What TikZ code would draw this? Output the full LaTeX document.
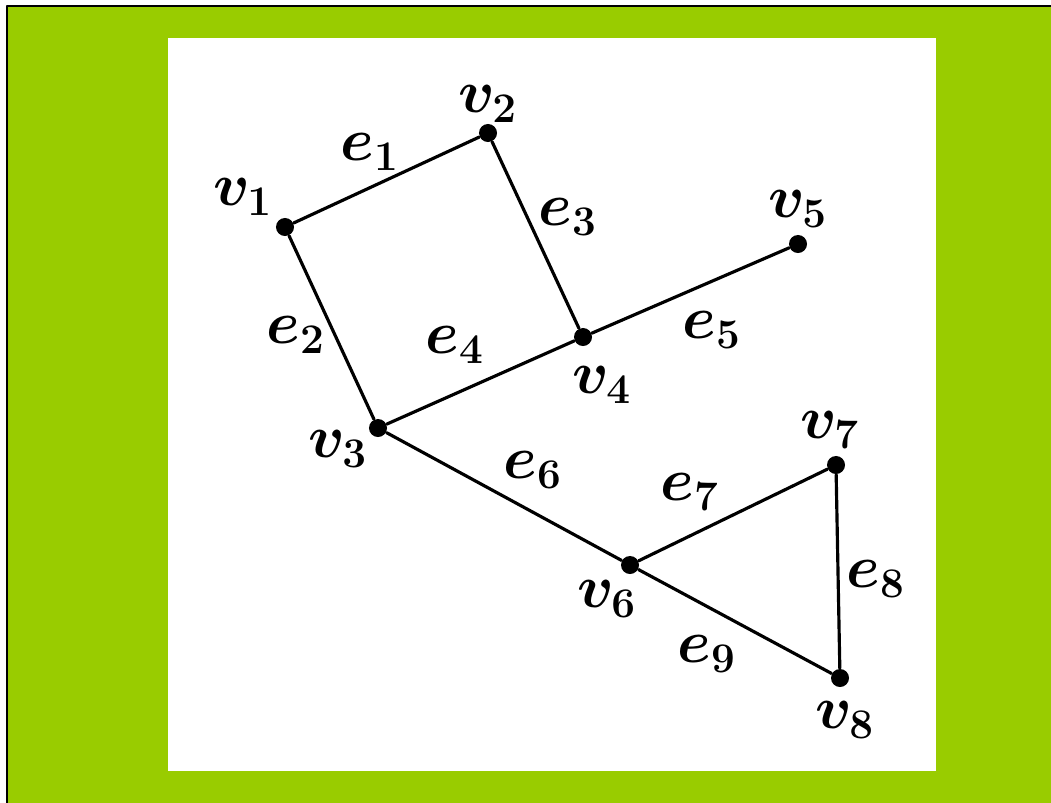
\documentclass[tikz,border=0pt]{standalone}
\definecolor{framegreen}{RGB}{153,204,0}

\begin{document}
\begin{tikzpicture}[x=0.01cm,y=-0.01cm,line cap=round,line join=round,
  vertex/.style={circle,fill=black,inner sep=0pt,minimum size=0.18cm},
  lbl/.style={font=\LARGE\boldmath,inner sep=0pt},
  edge/.style={black,line width=0.9pt}]
  \useasboundingbox (0,0) rectangle (1051,803);
  \fill[framegreen] (7,6) rectangle (1051,803);
  \draw[black,line width=0.025cm,line cap=butt] (7,803) -- (7,6) -- (1051,6);
  \fill[white] (168,38) rectangle (936,771);

  % vertices
  \node[vertex] (v1) at (285,227) {};
  \node[vertex] (v2) at (488,133) {};
  \node[vertex] (v3) at (378,428) {};
  \node[vertex] (v4) at (583,337) {};
  \node[vertex] (v5) at (798,244) {};
  \node[vertex] (v6) at (630,565) {};
  \node[vertex] (v7) at (836,465) {};
  \node[vertex] (v8) at (840,678) {};

  % edges
  \draw[edge] (v1) -- (v2);
  \draw[edge] (v1) -- (v3);
  \draw[edge] (v2) -- (v4);
  \draw[edge] (v3) -- (v4);
  \draw[edge] (v4) -- (v5);
  \draw[edge] (v3) -- (v6);
  \draw[edge] (v6) -- (v7);
  \draw[edge] (v7) -- (v8);
  \draw[edge] (v6) -- (v8);

  % vertex labels
  \node[lbl] (lv1) at (243,197) {$v_1$};
  \node[lbl] (lv2) at (488,104) {$v_2$};
  \node[lbl] (lv3) at (338,449) {$v_3$};
  \node[lbl] (lv4) at (602,385) {$v_4$};
  \node[lbl] (lv5) at (798,209) {$v_5$};
  \node[lbl] (lv6) at (607,599) {$v_6$};
  \node[lbl] (lv7) at (830,430) {$v_7$};
  \node[lbl] (lv8) at (845,720) {$v_8$};

  % edge labels
  \node[lbl] (le1) at (370,152) {$e_1$};
  \node[lbl] (le2) at (296,335) {$e_2$};
  \node[lbl] (le3) at (568,217) {$e_3$};
  \node[lbl] (le4) at (455,345) {$e_4$};
  \node[lbl] (le5) at (712,330) {$e_5$};
  \node[lbl] (le6) at (533,470) {$e_6$};
  \node[lbl] (le7) at (690,492) {$e_7$};
  \node[lbl] (le8) at (876,579) {$e_8$};
  \node[lbl] (le9) at (707,654) {$e_9$};
\end{tikzpicture}
\end{document}
